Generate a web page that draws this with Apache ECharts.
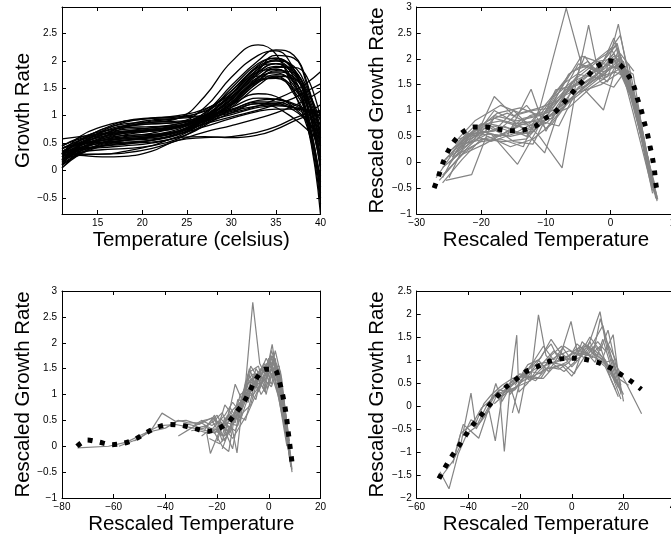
<!DOCTYPE html>
<html><head><meta charset="utf-8">
<script src="https://cdn.jsdelivr.net/npm/echarts@6/dist/echarts.min.js"></script>
<style>html,body{margin:0;padding:0;background:#fff}#c{width:671px;height:540px}</style>
</head><body><div id="c"></div>
<script>
// ---------- Panel 1: raw growth curves ----------
const tempX = [11, 13, 15.5, 18, 21, 24, 27, 30, 33, 35, 37, 38.5, 40];
const growthCurves = [
  [0.30,0.55,0.75,0.85,0.88,0.95,1.35,1.98,2.29,2.12,1.45,0.80,-0.10],
  [0.10,0.45,0.70,0.82,0.85,0.88,1.15,1.70,2.10,2.18,1.85,1.20,0.20],
  [0.20,0.40,0.55,0.62,0.68,0.80,1.05,1.55,2.00,2.20,2.10,1.60,0.60],
  [0.35,0.50,0.62,0.70,0.72,0.78,1.02,1.50,1.95,2.05,1.80,1.20,0.30],
  [0.05,0.35,0.60,0.78,0.90,0.95,1.10,1.45,1.90,2.00,1.70,1.00,-0.40],
  [0.25,0.42,0.50,0.55,0.60,0.70,0.95,1.40,1.85,2.00,1.90,1.50,0.90],
  [0.40,0.55,0.65,0.70,0.75,0.82,1.00,1.35,1.80,1.95,1.75,1.30,0.50],
  [0.15,0.35,0.48,0.52,0.55,0.65,0.92,1.30,1.75,1.90,1.80,1.45,0.80],
  [0.30,0.45,0.58,0.64,0.66,0.72,0.95,1.28,1.70,1.85,1.65,1.15,0.20],
  [0.20,0.48,0.72,0.88,0.95,0.98,1.08,1.35,1.70,1.78,1.55,1.00,-0.20],
  [0.35,0.40,0.45,0.50,0.55,0.68,0.90,1.22,1.65,1.80,1.70,1.30,0.55],
  [0.25,0.38,0.42,0.45,0.50,0.62,0.88,1.20,1.60,1.75,1.62,1.20,0.40],
  [0.10,0.30,0.45,0.55,0.60,0.70,0.95,1.30,1.72,1.72,1.40,0.85,-0.80],
  [0.40,0.50,0.55,0.60,0.65,0.75,0.98,1.25,1.65,1.70,1.50,1.05,0.10],
  [0.30,0.62,0.80,0.90,0.95,1.00,1.12,1.40,1.80,1.85,1.60,1.05,-0.30],
  [0.20,0.33,0.38,0.40,0.45,0.58,0.85,1.18,1.62,1.82,1.78,1.40,0.70],
  [0.45,0.58,0.68,0.75,0.78,0.85,1.05,1.45,1.92,2.05,1.85,1.35,0.45],
  [0.28,0.48,0.65,0.80,0.88,0.90,1.00,1.30,1.78,1.95,1.80,1.25,0.00],
  [0.15,0.40,0.55,0.65,0.72,0.80,0.98,1.33,1.82,2.10,2.05,1.55,0.70],
  [0.32,0.52,0.66,0.72,0.74,0.80,1.00,1.40,1.88,1.95,1.60,0.90,-0.60],
  [0.05,0.30,0.50,0.60,0.64,0.72,0.92,1.25,1.68,1.88,1.88,1.70,0.95],
  [0.18,0.38,0.52,0.58,0.62,0.72,0.98,1.38,1.85,2.02,1.85,1.35,0.25],
  [0.42,0.48,0.52,0.55,0.58,0.66,0.88,1.22,1.62,1.68,1.45,0.95,-0.50],
  [0.12,0.32,0.46,0.50,0.52,0.60,0.82,1.15,1.55,1.72,1.68,1.35,0.60],
  [0.30,0.50,0.62,0.70,0.75,0.80,0.95,1.20,1.40,1.35,1.15,0.90,0.55],
  [0.40,0.55,0.70,0.80,0.85,0.88,0.95,1.15,1.32,1.30,1.20,1.05,0.85],
  [0.20,0.45,0.65,0.82,0.92,0.95,1.00,1.12,1.25,1.25,1.15,1.00,0.75],
  [0.35,0.48,0.55,0.58,0.62,0.70,0.85,1.05,1.22,1.22,1.10,0.90,0.65],
  [0.25,0.42,0.58,0.68,0.75,0.82,0.92,1.08,1.18,1.20,1.15,1.08,1.00],
  [0.45,0.60,0.72,0.78,0.80,0.82,0.90,1.02,1.15,1.18,1.15,1.10,1.05],
  [0.30,0.55,0.75,0.90,0.96,0.98,1.00,1.10,1.22,1.15,0.95,0.75,0.50],
  [0.28,0.45,0.60,0.68,0.72,0.78,0.90,1.10,1.28,1.30,1.22,1.10,0.95],
  [0.58,0.62,0.67,0.72,0.78,0.85,0.95,1.05,1.18,1.30,1.45,1.60,1.80],
  [0.30,0.42,0.50,0.55,0.62,0.72,0.85,0.98,1.10,1.20,1.32,1.45,1.58],
  [0.20,0.28,0.30,0.32,0.40,0.55,0.70,0.82,0.95,1.05,1.18,1.30,1.45],
  [0.22,0.36,0.44,0.48,0.55,0.66,0.80,0.95,1.08,1.12,1.12,1.10,1.08],
  [0.30,0.28,0.25,0.26,0.35,0.55,0.60,0.62,0.70,0.80,0.95,1.05,1.20],
  [0.35,0.30,0.30,0.35,0.45,0.60,0.62,0.60,0.65,0.75,0.90,1.00,1.10]
];

// ---------- Panel 2 ----------
const p2Mean = [[-27.3,-0.5],[-26.6,-0.26],[-26.0,-0.03],[-25.2,0.2],[-24.3,0.39],[-23.0,0.57],[-21.2,0.68],[-19.3,0.68],[-17.4,0.64],[-15.5,0.61],[-13.6,0.62],[-11.6,0.7],[-10.2,0.84],[-8.7,0.96],[-7.3,1.14],[-6.1,1.32],[-4.8,1.5],[-3.5,1.67],[-2.1,1.85],[-0.2,1.96],[1.4,1.89],[2.7,1.69],[3.6,1.47],[4.1,1.25],[4.7,1.03],[5.2,0.78],[5.7,0.55],[6.1,0.31],[6.5,0.07],[6.8,-0.17],[7.0,-0.41],[7.3,-0.64]];
const p2Lines = [
  [[-26,-0.3],[-23.5,0.3],[-21,0.6],[-18,0.7],[-14.5,0.55],[-11,0.7],[-8,1.2],[-4.5,1.6],[-1,1.85],[1.3,2.0],[4,1.0],[6.8,-0.6]],
  [[-25.5,-0.35],[-21.5,-0.24],[-18,0.9],[-14.5,0.8],[-11,0.9],[-7.5,1.5],[-4,1.8],[0,2.2],[1.5,1.9],[4.5,0.8],[7,-0.7]],
  [[-27,-0.3],[-24,0.25],[-21,0.45],[-18,1.27],[-15,0.9],[-12,1.0],[-9,1.05],[-5,1.7],[-1,1.6],[1.2,2.67],[3.5,1.2],[6.5,-0.5]],
  [[-25,-0.3],[-22,0.5],[-18.5,0.55],[-14.4,-0.04],[-11.5,0.6],[-8.5,1.4],[-5,1.5],[-1.5,1.9],[1,2.3],[4,0.9],[7.2,-0.75]],
  [[-26,0.0],[-23,0.4],[-20,0.75],[-16,0.5],[-12.3,1.41],[-10,0.6],[-7,1.3],[-3.5,1.5],[0,1.8],[2,1.95],[4.5,0.6],[6.8,-0.5]],
  [[-24.5,0.1],[-21,0.65],[-17.5,0.5],[-14,0.7],[-10.2,0.18],[-8,1.0],[-4,1.4],[-1,1.7],[1.5,2.0],[4,1.1],[6.5,-0.45]],
  [[-25,0.2],[-22,0.55],[-18,0.6],[-15,1.0],[-11,0.5],[-7.5,-0.11],[-5.5,1.3],[-2,1.7],[0.5,2.4],[3,1.5],[6.5,-0.6]],
  [[-26,-0.1],[-23,0.2],[-20,0.4],[-17,0.45],[-13.5,0.3],[-10.9,1.07],[-6.86,2.98],[-4.4,1.85],[-1,1.75],[1.5,1.9],[4.2,0.9],[7,-0.65]],
  [[-24,0.35],[-21,0.7],[-17,0.8],[-13,0.65],[-10,0.75],[-5.8,1.26],[-3.4,2.65],[-2,1.8],[0.8,1.95],[3.5,1.2],[6.2,-0.3]],
  [[-25,0.1],[-22,0.35],[-19,0.55],[-15.5,0.5],[-12,0.6],[-9,0.95],[-5.5,1.6],[-1.1,1.01],[1,1.9],[3.5,1.7],[6,-0.2]],
  [[-24,0.4],[-21,0.8],[-17,1.1],[-14,0.95],[-11,1.05],[-8,1.2],[-5,1.9],[-2,1.8],[0.5,2.1],[3,1.4],[6,0.0]],
  [[-26,-0.4],[-23,0.05],[-20,0.45],[-16.5,0.4],[-13,0.45],[-10,0.85],[-6.5,1.2],[-3,1.55],[0,1.85],[2.5,1.75],[5,0.4],[7.3,-0.72]],
  [[-25,-0.05],[-22,0.45],[-19,0.75],[-15.5,0.65],[-12,0.8],[-9,0.9],[-6,1.35],[-2.5,1.65],[0.5,2.05],[1.8,1.9],[4.7,0.6],[7,-0.6]],
  [[-24,0.3],[-21,0.5],[-18,1.0],[-14.5,0.75],[-11,0.8],[-8,0.7],[-5,1.45],[-1.5,1.75],[1,2.2],[3,1.6],[6,-0.1]],
  [[-23.5,0.45],[-20,0.6],[-17,0.5],[-13.5,0.85],[-10,0.95],[-7,1.55],[-4.5,2.05],[-1,1.9],[1.5,1.8],[4,1.0],[6.5,-0.4]],
  [[-25.5,-0.2],[-22,0.3],[-18.5,0.7],[-15,0.4],[-12,0.35],[-9,1.1],[-6,1.45],[-3,1.8],[-0.5,1.65],[1.2,2.15],[4,1.2],[6.8,-0.55]],
  [[-26.5,-0.35],[-23,0.15],[-19.5,0.35],[-16,0.6],[-12.5,0.55],[-9.5,0.9],[-6.5,1.05],[-3,1.45],[0,1.7],[2,1.85],[4.5,0.7],[7.1,-0.7]],
  [[-24,0.2],[-20.5,0.55],[-17,0.65],[-13,1.1],[-10,0.65],[-7,1.1],[-4,2.05],[-1.5,1.55],[0.5,1.45],[2.2,1.75],[4.5,0.9],[6.5,-0.4]],
  [[-25,0.0],[-21.5,0.4],[-18,0.85],[-15,0.75],[-11.5,0.7],[-8.5,1.3],[-5,1.65],[-2,1.95],[0.5,2.0],[3,1.3],[5.8,0.0]],
  [[-23,0.55],[-20,0.55],[-16.5,0.7],[-13,0.5],[-10,1.0],[-7,1.4],[-4,1.55],[-1,1.8],[1.5,2.1],[3.6,1.76]],
  [[-22.5,0.5],[-19,0.8],[-16,0.95],[-12.5,0.75],[-9.5,1.2],[-6,1.75],[-3,1.9],[-0.5,2.1],[1.5,2.45],[4,1.05],[6.5,-0.4]],
  [[-26,-0.25],[-22.5,0.2],[-19,0.5],[-15.5,0.3],[-12,0.45],[-9,0.75],[-6,1.25],[-2.5,1.6],[0.5,1.75],[2.5,1.65],[5,0.5],[7.2,-0.68]],
  [[-24.5,0.25],[-21,0.6],[-17.5,0.95],[-14,1.05],[-11,0.9],[-8,1.05],[-5,1.35],[-1.5,1.5],[1,1.7],[2.8,1.9],[5.5,0.2],[7,-0.5]],
  [[-25.5,0.05],[-22,0.55],[-18.5,0.4],[-15,0.55],[-12,0.75],[-9,0.85],[-6,1.55],[-2.5,1.75],[0.8,2.25],[3.5,0.95],[6.5,-0.55]],
  [[-23,0.35],[-19.5,0.45],[-16,0.55],[-12.5,0.9],[-9.5,1.0],[-6.5,1.7],[-3.5,1.95],[-0.5,1.55],[1.5,2.05],[4.2,0.8],[6.8,-0.6]]
];

// ---------- Panel 3 ----------
const p3Mean = [[-74.2,0.0],[-70.2,0.12],[-65.7,0.08],[-60.8,0.03],[-56,0.06],[-51.6,0.14],[-47.5,0.26],[-43,0.37],[-38.3,0.42],[-33.4,0.40],[-28.5,0.34],[-23.6,0.29],[-19.1,0.35],[-15.4,0.48],[-12.3,0.67],[-9.7,0.85],[-7.4,1.06],[-5,1.29],[-1.5,1.49],[2.2,1.49],[3.9,1.28],[5.2,1.03],[6.1,0.8],[6.8,0.58],[7.4,0.32],[8,0.08],[8.6,-0.16],[9.2,-0.4]];
const p3Lines = [
  [[-74,-0.03],[-62,0.0],[-55,0.08],[-48,0.25],[-42,0.4],[-36,0.42],[-30,0.36],[-24,0.3],[-19,0.33],[-15,0.5],[-11,0.75],[-7,1.1],[-3,1.4],[0,1.5],[3,1.4],[6,0.7],[9,-0.45]],
  [[-58,0.0],[-50,0.15],[-45,0.35],[-41.3,0.64],[-36,0.48],[-32,0.5],[-27,0.42],[-22,0.55],[-18,0.4],[-14,0.7],[-10,0.9],[-6,1.2],[-2,1.45],[1,1.6],[4,1.2],[7,0.4],[8.5,-0.3]],
  [[-52,0.1],[-46,0.28],[-40,0.35],[-35,0.5],[-31,0.45],[-26,0.45],[-21,0.3],[-17,0.2],[-13,0.55],[-9,1.0],[-5,1.25],[-1,1.3],[2,1.6],[5,1.0],[8,0.0]],
  [[-35,0.2],[-30,0.35],[-25,0.5],[-21,0.55],[-18,0.1],[-15,0.6],[-11,0.55],[-8,1.4],[-4,1.1],[0,1.55],[2.5,1.7],[5.5,0.6],[8.5,-0.35]],
  [[-28,0.35],[-24,0.4],[-20,0.6],[-17,0.3],[-14,-0.05],[-11,0.8],[-7.5,1.5],[-4,1.05],[-1,1.4],[1.3,1.97],[4,1.1],[7,0.2]],
  [[-24,0.25],[-22.6,-0.14],[-19,0.3],[-16,0.45],[-12,0.4],[-9,1.2],[-6.2,2.78],[-3.5,1.6],[-1,1.35],[1.5,1.75],[4.5,1.3],[7.5,0.0]],
  [[-26,0.2],[-22,0.35],[-18,0.0],[-15.5,-0.1],[-13,0.65],[-10,0.95],[-6,1.0],[-3,1.2],[0,1.7],[2,1.4],[5,0.7],[8,-0.1]],
  [[-25,0.4],[-21,0.25],[-17,0.45],[-14,0.3],[-12.3,-0.13],[-10,0.9],[-7,1.55],[-4,1.3],[-1.5,1.05],[1,1.85],[3.5,1.5],[6.5,0.5]],
  [[-22,0.45],[-18,0.65],[-15,0.25],[-12,0.9],[-8,0.85],[-5,1.5],[-2,1.25],[1,1.5],[4,1.55],[6.5,0.6],[8.5,-0.4]],
  [[-20,0.1],[-17,0.55],[-14,0.45],[-11,1.0],[-8,1.1],[-5,0.9],[-2,1.55],[0.5,1.3],[3,1.6],[5.5,1.0],[8,0.1]],
  [[-21,0.35],[-18,0.2],[-15,0.75],[-12,0.5],[-9,1.25],[-6,1.4],[-3,1.0],[0,1.25],[2.5,1.85],[5,1.3],[7.5,0.2]],
  [[-19,0.55],[-16,0.4],[-13,0.3],[-10,0.65],[-7,0.8],[-4,1.35],[-1,1.7],[1.5,1.45],[4,0.9],[7,0.0]],
  [[-23,0.15],[-19,0.05],[-16,0.2],[-13,0.7],[-10,0.75],[-7,1.25],[-3.5,1.45],[-0.5,1.1],[2,1.5],[4.5,1.45],[7,0.3]],
  [[-27,0.3],[-23,0.25],[-20,0.45],[-17,0.6],[-14,0.85],[-11,0.65],[-8,1.0],[-5,1.15],[-2,1.6],[1,1.4],[3.5,1.0],[6,0.4],[9,-0.5]],
  [[-18,-0.05],[-15,0.35],[-12,0.6],[-9,0.5],[-6,1.1],[-3,1.5],[0,1.45],[2.5,1.3],[5,1.2],[7.5,0.0]],
  [[-16,0.5],[-13,1.2],[-10,0.85],[-7,1.45],[-4,1.55],[-1,1.0],[1.5,1.65],[4,1.45],[6.5,0.6]],
  [[-30,0.3],[-25,0.35],[-21,0.5],[-17,0.35],[-14,0.15],[-11,0.4],[-8,0.65],[-5,1.0],[-2,1.3],[1,1.15],[3.5,1.5],[6,0.8],[8.5,-0.2]],
  [[-22,0.5],[-19,0.25],[-16,0.6],[-13,0.45],[-10,1.05],[-7,1.3],[-4,1.2],[-1,1.6],[1.5,1.5],[4,1.0],[7,0.1]],
  [[-25,0.3],[-21,0.6],[-17,0.1],[-14,0.5],[-11,0.7],[-8,1.2],[-5,1.4],[-2,1.1],[1,1.75],[3.5,1.3],[6.5,0.3]],
  [[-20,0.3],[-17,0.8],[-14,0.6],[-11,0.5],[-8,0.95],[-5,1.3],[-2,1.45],[1,1.2],[3,1.55],[5.5,0.9],[8,-0.2]],
  [[-33,0.45],[-29,0.4],[-26,0.5],[-22,0.4],[-19,0.5],[-16,0.3],[-13,0.55],[-10,0.9],[-6,1.3],[-3,1.5],[0,1.6],[3,1.35],[6,0.5]]
];

// ---------- Panel 4 ----------
const p4Mean = [[-51.4,-1.58],[-49.1,-1.34],[-46.5,-1.1],[-43.6,-0.86],[-41,-0.63],[-38.4,-0.42],[-35.2,-0.21],[-32.2,0.0],[-29,0.2],[-25.5,0.41],[-21.8,0.57],[-17.7,0.75],[-13.1,0.86],[-8.2,0.98],[-3.4,1.03],[1.6,1.04],[6.4,1.0],[10.9,0.93],[15.2,0.82],[19.4,0.67],[23.6,0.51],[26.9,0.36]];
const p4Lines = [
  [[-51,-1.43],[-47.5,-1.8],[-44,-1.05],[-40.5,-0.6],[-37,-0.45],[-33,0.0],[-29,0.3],[-25,0.45],[-21,0.6],[-17,0.7],[-13,0.85],[-9,0.9],[-5,1.0],[-1,1.1],[3,1.2],[7,1.1],[11,1.0],[15,0.8],[19,0.3]],
  [[-50,-1.5],[-46,-1.2],[-43,-0.85],[-39,0.28],[-37,-0.5],[-34,-0.2],[-30,0.2],[-26,0.3],[-22,0.5],[-18,0.75],[-14,0.9],[-10,0.95],[-6,0.95],[-2,1.05],[2,1.25],[6,1.3],[10,1.1],[14,0.9],[18,0.4]],
  [[-45,-1.0],[-42,-0.4],[-39,-0.55],[-36,-0.7],[-33,-0.2],[-29.4,0.49],[-27,0.1],[-24,0.4],[-21,0.65],[-17,0.6],[-13,0.7],[-9,0.85],[-5,0.8],[-1,0.95],[3,1.3],[7,1.1],[11,1.3],[15,0.6],[18,0.2]],
  [[-42,-0.65],[-39,-0.3],[-36,-0.4],[-32,-0.1],[-29.6,-0.76],[-27,0.2],[-24,0.35],[-21.3,1.54],[-20.5,0.3],[-17,0.5],[-14,0.75],[-11,0.95],[-7,1.2],[-3,1.0],[1,1.05],[5,1.35],[9,1.2],[13,1.0],[17,0.5]],
  [[-38,-0.35],[-35,-0.05],[-31,0.15],[-28,0.3],[-26.1,-0.99],[-24,0.35],[-20,0.45],[-16,0.55],[-12.9,1.98],[-10,1.1],[-7,0.9],[-3,0.75],[1,0.95],[4,1.4],[8,1.15],[12,1.0],[16,0.6],[19,0.15]],
  [[-33,0.0],[-30,0.25],[-27,0.3],[-24,0.45],[-20.5,-0.16],[-18,0.55],[-15,0.8],[-11,1.15],[-8,1.35],[-5,1.0],[-0.3,1.84],[2,1.2],[6,1.25],[10.9,2.05],[13,1.4],[17,0.6],[20,0.25]],
  [[-30,0.05],[-27,0.2],[-24,0.5],[-20,0.7],[-16,0.55],[-12,0.8],[-8,1.0],[-4,1.15],[0,0.85],[4,1.1],[8,1.35],[12,1.75],[15,1.1],[18,0.5]],
  [[-28,0.15],[-25,0.4],[-21,0.55],[-17,0.9],[-13,1.0],[-9,0.75],[-5,1.1],[-1,1.2],[3,1.1],[7,1.5],[11,1.2],[14,1.65],[17,0.9],[21,0.5],[27,-0.17]],
  [[-35,-0.3],[-31,0.0],[-28,0.35],[-24,0.3],[-20,0.5],[-16,0.65],[-12,0.6],[-8,0.95],[-4,0.9],[0,0.65],[3,0.9],[7,1.25],[11,0.9],[14,1.35],[17,1.0],[20,0.1]],
  [[-26,0.3],[-22,0.35],[-18,0.65],[-14,0.55],[-10,0.8],[-6,0.85],[-2,0.95],[2,1.35],[5,1.2],[9,0.95],[12,1.45],[16,0.7],[19,0.35]],
  [[-24,0.25],[-20,0.5],[-16,0.85],[-12,1.05],[-8,1.45],[-5,1.2],[-1,1.0],[3,1.15],[6,1.1],[10,1.4],[13,1.2],[16,1.55],[19,0.25]],
  [[-22,0.45],[-19,0.7],[-15,0.6],[-11,0.6],[-7,0.85],[-3,0.9],[1,0.7],[4,1.2],[8,1.05],[11,1.9],[14,1.3],[18,0.6],[22,0.45]],
  [[-23,-0.15],[-20,0.55],[-16,0.75],[-12,0.7],[-8,1.1],[-4,1.3],[0,1.0],[3,1.05],[7,1.4],[10,1.0],[13,0.85],[17,0.35]],
  [[-46,-1.25],[-43,-0.6],[-40,-0.45],[-37,-0.35],[-34,0.05],[-31,0.25],[-27,0.45],[-23,0.6],[-19,0.65],[-15,0.95],[-11,1.3],[-7,1.0],[-3,1.3],[1,1.15],[5,1.05],[9,1.3],[13,0.95],[16,1.0],[19,0.45]]
];

// ---------- Axes: ranges and tick labels ----------
const p1XRange = [11, 40],  p1YRange = [-0.79, 2.98];
const p2XRange = [-30, 10], p2YRange = [-1, 3];
const p3XRange = [-80, 20], p3YRange = [-1, 3];
const p4XRange = [-60, 40], p4YRange = [-2, 2.5];
const p1XTicks = [15, 20, 25, 30, 35, 40];
const p1YTicks = [-0.5, 0, 0.5, 1, 1.5, 2, 2.5];
const p2XTicks = [-30, -20, -10, 0, 10];
const p2YTicks = [-1, -0.5, 0, 0.5, 1, 1.5, 2, 2.5, 3];
const p3XTicks = [-80, -60, -40, -20, 0, 20];
const p3YTicks = [-1, -0.5, 0, 0.5, 1, 1.5, 2, 2.5, 3];
const p4XTicks = [-60, -40, -20, 0, 20, 40];
const p4YTicks = [-2, -1.5, -1, -0.5, 0, 0.5, 1, 1.5, 2, 2.5];
const xNames = ['Temperature (celsius)', 'Rescaled Temperature', 'Rescaled Temperature', 'Rescaled Temperature'];
const yNames = ['Growth Rate', 'Rescaled Growth Rate', 'Rescaled Growth Rate', 'Rescaled Growth Rate'];

const FONT = 'Liberation Sans, Arial, Helvetica, sans-serif';
const fmt = v => String(v).replace('-', '\u2212');
const grids = [
  {left: 62, top: 7, width: 258.5, height: 207},
  {left: 416.7, top: 7, width: 258.5, height: 207},
  {left: 62, top: 291, width: 258.5, height: 207},
  {left: 416.7, top: 291, width: 258.5, height: 207}
].map(g => Object.assign(g, {containLabel: false, outerBoundsMode: 'none'}));
const yGaps = [28, 28, 25, 28];
const xAxes = [], yAxes = [];
const axLine = {show: true, onZero: false, lineStyle: {color: '#000', width: 1}};
function addAxes(gi, xr, yr, xt, yt) {
  const tick = vals => ({show: true, inside: true, length: 4, customValues: vals, lineStyle: {color: '#000', width: 1}});
  xAxes.push({type: 'value', gridIndex: gi, min: xr[0], max: xr[1], position: 'bottom',
    axisLine: axLine, splitLine: {show: false}, axisTick: tick(xt),
    axisLabel: {customValues: xt, formatter: fmt, color: '#000', fontSize: 10, fontFamily: FONT, margin: 4, hideOverlap: false},
    name: xNames[gi], nameLocation: 'middle', nameGap: 16,
    nameTextStyle: {fontSize: 20.5, color: '#000', fontFamily: FONT}});
  xAxes.push({type: 'value', gridIndex: gi, min: xr[0], max: xr[1], position: 'top',
    axisLine: axLine, splitLine: {show: false}, axisTick: tick(xt), axisLabel: {show: false}});
  yAxes.push({type: 'value', gridIndex: gi, min: yr[0], max: yr[1], position: 'left',
    axisLine: axLine, splitLine: {show: false}, axisTick: tick(yt),
    axisLabel: {customValues: yt, formatter: fmt, color: '#000', fontSize: 10, fontFamily: FONT, margin: 5, hideOverlap: false},
    name: yNames[gi], nameLocation: 'middle', nameGap: yGaps[gi], nameRotate: 90,
    nameTextStyle: {fontSize: 20.5, color: '#000', fontFamily: FONT}});
  yAxes.push({type: 'value', gridIndex: gi, min: yr[0], max: yr[1], position: 'right',
    axisLine: axLine, splitLine: {show: false}, axisTick: tick(yt), axisLabel: {show: false}});
}
addAxes(0, p1XRange, p1YRange, p1XTicks, p1YTicks);
addAxes(1, p2XRange, p2YRange, p2XTicks, p2YTicks);
addAxes(2, p3XRange, p3YRange, p3XTicks, p3YTicks);
addAxes(3, p4XRange, p4YRange, p4XTicks, p4YTicks);

const series = [];
growthCurves.forEach(c => series.push({
  type: 'line', xAxisIndex: 0, yAxisIndex: 0, smooth: 0.45, showSymbol: false, silent: true,
  data: tempX.map((x, i) => [x, c[i]]), lineStyle: {color: '#000', width: 1.3}
}));
function addPanel(gi, lines, mean) {
  lines.forEach(l => series.push({
    type: 'line', xAxisIndex: 2 * gi, yAxisIndex: 2 * gi, showSymbol: false, silent: true,
    data: l, lineStyle: {color: '#848484', width: 1.2}
  }));
  series.push({
    type: 'line', xAxisIndex: 2 * gi, yAxisIndex: 2 * gi, showSymbol: false, silent: true, smooth: 0.3, z: 5,
    data: mean, lineStyle: {color: '#000', width: 5, type: [5, 7.5], cap: 'butt'}
  });
}
addPanel(1, p2Lines, p2Mean);
addPanel(2, p3Lines, p3Mean);
addPanel(3, p4Lines, p4Mean);

const chart = echarts.init(document.getElementById('c'), null, {renderer: 'canvas'});
chart.setOption({
  animation: false,
  backgroundColor: '#fff',
  grid: grids,
  xAxis: xAxes,
  yAxis: yAxes,
  series: series
});
</script></body></html>
